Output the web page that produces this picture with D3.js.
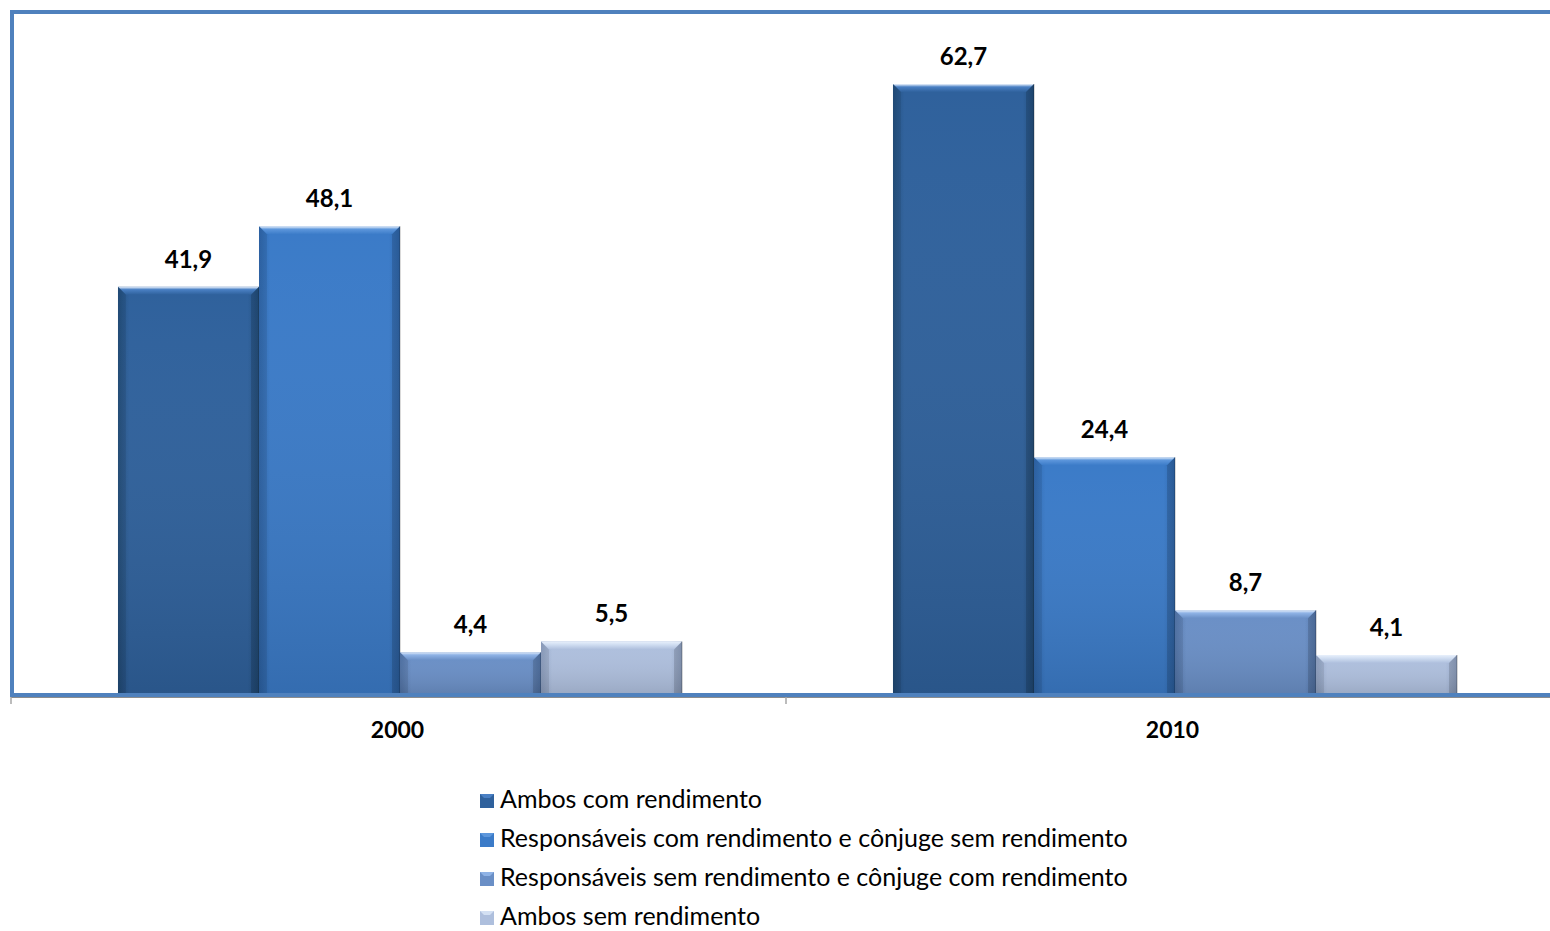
<!DOCTYPE html>
<html>
<head>
<meta charset="utf-8">
<script src="https://cdn.jsdelivr.net/npm/d3@7"></script>
<style>
  html, body { margin: 0; padding: 0; background: #fff; }
  svg { display: block; }
  text { font-family: Lato, "Open Sans", sans-serif; }
</style>
</head>
<body>
<svg id="chart" width="1550" height="931"></svg>
<script>
// Categories (years) and series
const years = ["2000", "2010"];
const seriesNames = [
  "Ambos com rendimento",
  "Responsáveis com rendimento e cônjuge sem rendimento",
  "Responsáveis sem rendimento e cônjuge com rendimento",
  "Ambos sem rendimento"
];
const ambosCom = [41.9, 62.7];
const respComConjSem = [48.1, 24.4];
const respSemConjCom = [4.4, 8.7];
const ambosSem = [5.5, 4.1];
const seriesValues = [ambosCom, respComConjSem, respSemConjCom, ambosSem];
const yDomain = [0, 70];

// Per-series fill: [edge, centre, top bevel highlight]
const seriesColors = [
  { edge: "#23507f", mid: "#2f619c", top: "#4a80c4" },
  { edge: "#2f68ae", mid: "#3b7bc8", top: "#5d97dc" },
  { edge: "#5478ae", mid: "#6a8fc6", top: "#8fb3e6" },
  { edge: "#93a6c8", mid: "#aebfdd", top: "#d3e0f3" }
];

const svg = d3.select("#chart");
const plot = { left: 11, right: 1561, top: 13, bottom: 695 };

const x0 = d3.scaleBand().domain(years).range([plot.left, plot.right]).paddingInner(0).paddingOuter(0);
const x1 = d3.scaleBand().domain(d3.range(seriesNames.length))
  .range([0, x0.bandwidth()]).paddingOuter(0.748).paddingInner(0);
const y = d3.scaleLinear().domain(yDomain).range([plot.bottom, plot.top]);

// Gradients
const defs = svg.append("defs");
seriesColors.forEach((c, i) => {
  const g = defs.append("linearGradient").attr("id", "grad" + i)
    .attr("x1", "0").attr("x2", "1").attr("y1", "0").attr("y2", "0");
  g.append("stop").attr("offset", "0").attr("stop-color", c.edge);
  g.append("stop").attr("offset", "0.08").attr("stop-color", c.mid);
  g.append("stop").attr("offset", "0.92").attr("stop-color", c.mid);
  g.append("stop").attr("offset", "1").attr("stop-color", c.edge);
  const gv = defs.append("linearGradient").attr("id", "vgrad" + i)
    .attr("x1", "0").attr("x2", "0").attr("y1", "0").attr("y2", "1");
  gv.append("stop").attr("offset", "0").attr("stop-color", "#fff").attr("stop-opacity", 0);
  gv.append("stop").attr("offset", "1").attr("stop-color", "#000").attr("stop-opacity", 0.12);
  const gt = defs.append("linearGradient").attr("id", "tgrad" + i)
    .attr("x1", "0").attr("x2", "0").attr("y1", "0").attr("y2", "1");
  gt.append("stop").attr("offset", "0").attr("stop-color", "#e8f0fb");
  gt.append("stop").attr("offset", "0.35").attr("stop-color", c.top);
  gt.append("stop").attr("offset", "1").attr("stop-color", c.mid);
});

// Axis line with ticks between categories
svg.append("line")
  .attr("x1", plot.left).attr("x2", plot.right)
  .attr("y1", plot.bottom + 2).attr("y2", plot.bottom + 2)
  .attr("stroke", "#8c8c8c").attr("stroke-width", 2);
const tickXs = years.map(d => x0(d)).concat([plot.right]);
svg.selectAll("line.tick").data(tickXs).join("line")
  .attr("class", "tick")
  .attr("x1", d => d).attr("x2", d => d)
  .attr("y1", plot.bottom + 2).attr("y2", plot.bottom + 9)
  .attr("stroke", "#a6a6a6").attr("stroke-width", 1.5);

// Bars
const rows = [];
years.forEach((yr, gi) => {
  seriesValues.forEach((vals, si) => rows.push({ yr, si, v: vals[gi] }));
});

const bev = 8;
const barG = svg.append("g");
rows.forEach(d => {
  const bx = x0(d.yr) + x1(d.si) + 1.5;
  const bw = x1.bandwidth();
  const by = y(d.v);
  const bh = y(0) - by;
  const g = barG.append("g");
  g.append("rect").attr("x", bx).attr("y", by).attr("width", bw).attr("height", bh)
    .attr("fill", `url(#grad${d.si})`);
  g.append("rect").attr("x", bx).attr("y", by).attr("width", bw).attr("height", bh)
    .attr("fill", `url(#vgrad${d.si})`);
  // top bevel
  g.append("path")
    .attr("d", `M${bx},${by} L${bx + bw},${by} L${bx + bw - bev},${by + bev} L${bx + bev},${by + bev} Z`)
    .attr("fill", `url(#tgrad${d.si})`);
  // side bevels
  g.append("path")
    .attr("d", `M${bx},${by} L${bx + bev},${by + bev} L${bx + bev},${by + bh} L${bx},${by + bh} Z`)
    .attr("fill", "#000").attr("opacity", 0.08);
  g.append("path")
    .attr("d", `M${bx + bw},${by} L${bx + bw - bev},${by + bev} L${bx + bw - bev},${by + bh} L${bx + bw},${by + bh} Z`)
    .attr("fill", "#000").attr("opacity", 0.14);
  g.append("line").attr("x1", bx + bw).attr("x2", bx + bw).attr("y1", by).attr("y2", by + bh)
    .attr("stroke", "#000").attr("stroke-opacity", 0.2).attr("stroke-width", 1.5);
});

// Value labels
svg.selectAll("text.val").data(rows).join("text")
  .attr("class", "val")
  .attr("x", d => x0(d.yr) + x1(d.si) + 1.5 + x1.bandwidth() / 2)
  .attr("y", d => y(d.v) - 19)
  .attr("text-anchor", "middle")
  .attr("font-size", 24).attr("font-weight", "bold").attr("fill", "#000")
  .text(d => d.v.toFixed(1).replace(".", ","));

// Plot frame (left, top, bottom)
svg.append("path")
  .attr("d", `M${plot.right},${plot.top - 1} L${plot.left + 1},${plot.top - 1} L${plot.left + 1},${plot.bottom} L${plot.right},${plot.bottom}`)
  .attr("fill", "none").attr("stroke", "#4f81bd").attr("stroke-width", 4);

// Category labels
svg.selectAll("text.cat").data(years).join("text")
  .attr("class", "cat")
  .attr("x", d => x0(d) + x0.bandwidth() / 2 - 1)
  .attr("y", 738)
  .attr("text-anchor", "middle")
  .attr("font-size", 23).attr("font-weight", "bold").attr("fill", "#000")
  .text(d => d);

// Legend
const legend = svg.append("g");
seriesNames.forEach((name, i) => {
  const ly = 801 + i * 39;
  const c = seriesColors[i];
  legend.append("rect").attr("x", 480).attr("y", ly - 7).attr("width", 14).attr("height", 14)
    .attr("fill", c.mid);
  legend.append("path")
    .attr("d", `M480,${ly - 7} L494,${ly - 7} L490,${ly - 3} L484,${ly - 3} Z`)
    .attr("fill", c.top);
  legend.append("text").attr("x", 500).attr("y", ly + 7)
    .attr("font-size", 25).attr("fill", "#000").text(name);
});
</script>
</body>
</html>
